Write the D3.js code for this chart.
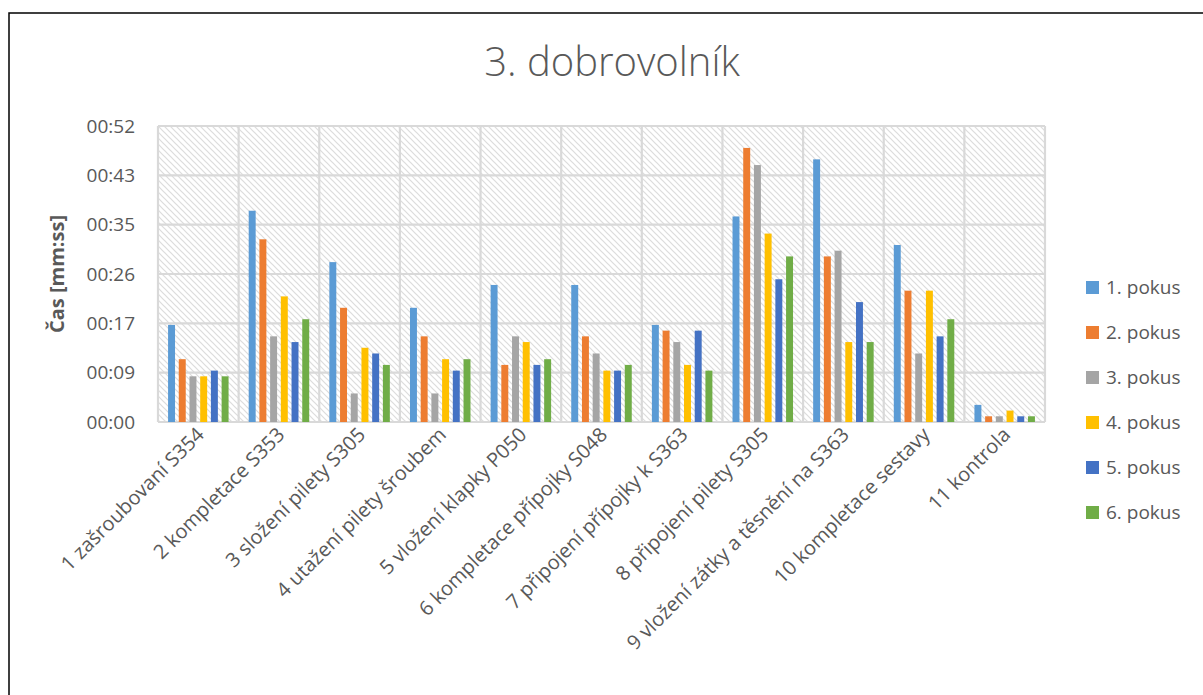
<!DOCTYPE html>
<html>
<head>
<meta charset="utf-8">
<script src="https://cdn.jsdelivr.net/npm/d3@7"></script>
<style>
  body { margin: 0; background: #fff; }
  svg { display: block; font-family: "Open Sans", sans-serif; }
</style>
</head>
<body>
<div id="wrapper"></div>
<script>
// data (seconds)
const categories = [
  "1 zašroubovaní S354",
  "2 kompletace S353",
  "3 složení pilety S305",
  "4 utažení pilety šroubem",
  "5 vložení klapky P050",
  "6 kompletace přípojky S048",
  "7 připojení přípojky k S363",
  "8 připojení pilety S305",
  "9 vložení zátky a těsnění na S363",
  "10 kompletace sestavy",
  "11 kontrola"
]
const seriesNames = ["1. pokus", "2. pokus", "3. pokus", "4. pokus", "5. pokus", "6. pokus"]
const pokus1 = [17, 37, 28, 20, 24, 24, 17, 36, 46, 31, 3]
const pokus2 = [11, 32, 20, 15, 10, 15, 16, 48, 29, 23, 1]
const pokus3 = [8, 15, 5, 5, 15, 12, 14, 45, 30, 12, 1]
const pokus4 = [8, 22, 13, 11, 14, 9, 10, 33, 14, 23, 2]
const pokus5 = [9, 14, 12, 9, 10, 9, 16, 25, 21, 15, 1]
const pokus6 = [8, 18, 10, 11, 11, 10, 9, 29, 14, 18, 1]
// Excel time axis: major unit 0.0001 day = 8.64 s
const yTicks = [0, 8.64, 17.28, 25.92, 34.56, 43.2, 51.84]

const seriesValues = [pokus1, pokus2, pokus3, pokus4, pokus5, pokus6]
const colors = ["#5B9BD5", "#ED7D31", "#A5A5A5", "#FFC000", "#4472C4", "#70AD47"]

const rows = categories.map((c, i) => ({
  cat: c,
  values: seriesNames.map((s, j) => ({ key: s, value: seriesValues[j][i] }))
}))

const dimensions = {
  width: 1203,
  height: 695,
  margin: { top: 126, right: 158, bottom: 273, left: 158 }
}
dimensions.boundedWidth = dimensions.width - dimensions.margin.left - dimensions.margin.right
dimensions.boundedHeight = dimensions.height - dimensions.margin.top - dimensions.margin.bottom

const wrapper = d3.select("#wrapper")
  .append("svg")
  .attr("width", dimensions.width)
  .attr("height", dimensions.height)

const defs = wrapper.append("defs")
const hatch = defs.append("pattern")
  .attr("id", "hatch")
  .attr("patternUnits", "userSpaceOnUse")
  .attr("width", 6)
  .attr("height", 6)
hatch.append("rect").attr("width", 6).attr("height", 6).attr("fill", "#fff")
hatch.append("path")
  .attr("d", "M-1,-1 L7,7 M-1,5 L1,7 M5,-1 L7,1")
  .attr("stroke", "#dcdcdc")
  .attr("stroke-width", 1.2)

// outer chart border
wrapper.append("rect")
  .attr("x", 9)
  .attr("y", 13)
  .attr("width", 1220)
  .attr("height", 700)
  .attr("fill", "none")
  .attr("stroke", "#000")
  .attr("stroke-width", 1.5)

wrapper.append("text")
  .attr("x", 612)
  .attr("y", 76)
  .attr("text-anchor", "middle")
  .style("font-size", "40px")
  .style("font-weight", 300)
  .style("fill", "#595959")
  .text("3. dobrovolník")

const bounds = wrapper.append("g")
  .attr("transform", `translate(${dimensions.margin.left},${dimensions.margin.top})`)

// scales
const x0 = d3.scaleBand()
  .domain(categories)
  .range([0, dimensions.boundedWidth])
  .padding(0)

const x1 = d3.scaleBand()
  .domain(seriesNames)
  .range([0, x0.bandwidth()])
  .paddingInner(0.35)
  .paddingOuter(0.94)

const yScale = d3.scaleLinear()
  .domain([0, 51.84])
  .range([dimensions.boundedHeight, 0])

const color = d3.scaleOrdinal().domain(seriesNames).range(colors)

const fmt = s => {
  const r = Math.round(s)
  return String(Math.floor(r / 60)).padStart(2, "0") + ":" + String(r % 60).padStart(2, "0")
}

// plot area
bounds.append("rect")
  .attr("width", dimensions.boundedWidth)
  .attr("height", dimensions.boundedHeight)
  .attr("fill", "url(#hatch)")

const gridColor = "#d9d9d9"
bounds.append("g")
  .selectAll("line")
  .data(yTicks)
  .join("line")
  .attr("x1", 0)
  .attr("x2", dimensions.boundedWidth)
  .attr("y1", d => yScale(d))
  .attr("y2", d => yScale(d))
  .attr("stroke", gridColor)
  .attr("stroke-width", 2.2)

bounds.append("g")
  .selectAll("line")
  .data(categories.concat(["__end"]))
  .join("line")
  .attr("x1", d => d === "__end" ? dimensions.boundedWidth : x0(d))
  .attr("x2", d => d === "__end" ? dimensions.boundedWidth : x0(d))
  .attr("y1", 0)
  .attr("y2", dimensions.boundedHeight)
  .attr("stroke", gridColor)
  .attr("stroke-width", 2.2)

// bars
const groups = bounds.append("g")
  .selectAll("g")
  .data(rows)
  .join("g")
  .attr("transform", d => `translate(${x0(d.cat)},0)`)

groups.selectAll("rect")
  .data(d => d.values)
  .join("rect")
  .attr("x", d => x1(d.key))
  .attr("y", d => yScale(d.value))
  .attr("width", x1.bandwidth())
  .attr("height", d => dimensions.boundedHeight - yScale(d.value))
  .attr("fill", d => color(d.key))

// y axis
const yAxis = bounds.append("g")
  .call(d3.axisLeft(yScale).tickValues(yTicks).tickFormat(fmt).tickSize(0).tickPadding(23))
yAxis.select(".domain").remove()
yAxis.selectAll("text")
  .style("font-size", "19px")
  .style("font-family", "'Open Sans', sans-serif")
  .style("fill", "#595959")

wrapper.append("text")
  .attr("transform", `translate(64,${dimensions.margin.top + dimensions.boundedHeight / 2}) rotate(-90)`)
  .attr("text-anchor", "middle")
  .style("font-size", "20px")
  .style("font-weight", 700)
  .style("fill", "#595959")
  .text("Čas [mm:ss]")

// x labels
bounds.append("g")
  .selectAll("text")
  .data(categories)
  .join("text")
  .attr("transform", d => `translate(${x0(d) + x0.bandwidth() / 2 + 7},${dimensions.boundedHeight + 14}) rotate(-45)`)
  .attr("text-anchor", "end")
  .style("font-size", "20px")
  .style("fill", "#595959")
  .text(d => d)

// legend
const legend = wrapper.append("g")
  .attr("transform", "translate(1086,287)")
const items = legend.selectAll("g")
  .data(seriesNames)
  .join("g")
  .attr("transform", (d, i) => `translate(0,${i * 45})`)
items.append("rect")
  .attr("y", -6)
  .attr("width", 13)
  .attr("height", 13)
  .attr("fill", d => color(d))
items.append("text")
  .attr("x", 20)
  .attr("y", 7)
  .style("font-size", "19px")
  .style("fill", "#595959")
  .text(d => d)
</script>
</body>
</html>
